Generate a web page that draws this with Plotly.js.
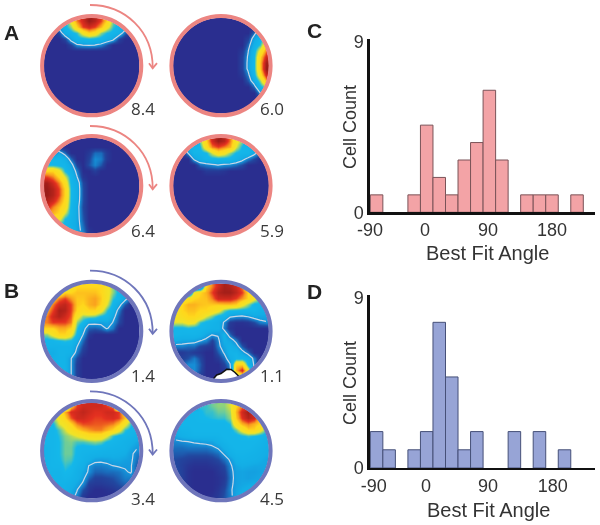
<!DOCTYPE html>
<html><head><meta charset="utf-8">
<script src="https://cdn.plot.ly/plotly-3.0.1.min.js"></script>
<style>html,body{margin:0;padding:0;background:#fff}#c{width:600px;height:525px;filter:blur(0.4px)}</style></head>
<body><div id="c"></div>
<script>
const angles = [-72,-54,-36,-18,0,18,36,54,72,90,108,126,144,162,180,198,216];
const countsC = [1,0,0,1,5,2,1,3,4,7,3,0,1,1,1,0,1];
const countsD = [2,1,0,1,2,8,5,1,2,0,0,2,0,2,0,1,0];
const tickPosC = [-81.5,-2.5,88,180];
const tickPosD = [-76,-1,88,181];
const tickText = ["-90","0","90","180"];
const mapLabels = ["8.4","6.0","6.4","5.9","1.4","1.1","3.4","4.5"];

const O=[0,0,0,0,0,0,0,0,0,0,0,0,0,0,0,0];
const mapA1=[
[0,0,0,3,5,7,8,9,8.5,7.5,6,4,3,3,0,0],
[0,0,2,3,4,6,7.5,8,7.5,6.5,5,3.5,3,2.5,0,0],
[0,0,.5,2.5,3,3.5,5,6,5.5,4,3.3,3,2.5,1,0,0],
[0,0,0,.5,2,3,3,3.2,3,3,2.5,2,.5,0,0,0],
[0,0,0,0,.5,1.4,1.6,1.7,1.6,1.3,.7,0,0,0,0,0],
O,O,O,O,O,O,O,O,O,O,O];
const mapA2=[
O,O,
[0,0,0,0,0,0,0,0,0,0,0,0,0,1,2.5,3],
[0,0,0,0,0,0,0,0,0,0,0,0,.5,2,3,3.5],
[0,0,0,0,0,0,0,0,0,0,0,0,1,2.5,3.5,6],
[0,0,0,0,0,0,0,0,0,0,0,.3,1.4,3,5,7],
[0,0,0,0,0,0,0,0,0,0,0,.5,1.6,3.2,6,8],
[0,0,0,0,0,0,0,0,0,0,0,.5,1.7,3.3,6.3,8.8],
[0,0,0,0,0,0,0,0,0,0,0,.5,1.7,3.3,6.2,9],
[0,0,0,0,0,0,0,0,0,0,0,.3,1.2,3,5.5,8],
[0,0,0,0,0,0,0,0,0,0,0,0,.8,2.2,4,6.5],
[0,0,0,0,0,0,0,0,0,0,0,0,0,1,3,4],
[0,0,0,0,0,0,0,0,0,0,0,0,0,0,1.5,2.5],
O,O,O];
const mapA3=[
O,O,
[0,1,2,1,0,0,0,.3,1,1,.3,0,0,0,0,0],
[3,3,3,2.5,1,0,0,.5,1.4,1.2,.3,0,0,0,0,0],
[3.2,3.2,3,3,2,.5,0,.7,1.3,.8,0,0,0,0,0,0],
[6,6,5,3.3,2.5,1.2,0,0,.4,0,0,0,0,0,0,0],
[7.5,7,6,4.5,3,1.6,.2,0,0,0,0,0,0,0,0,0],
[8.8,8,7,5.5,3,2.2,.6,0,0,0,0,0,0,0,0,0],
[9,8.5,7.5,6,3.3,2.3,.7,0,0,0,0,0,0,0,0,0],
[9,8.5,7.5,6,3.3,2.3,.7,0,0,0,0,0,0,0,0,0],
[8.5,8,7,5.8,3.2,2.2,.7,0,0,0,0,0,0,0,0,0],
[8,7,6.3,5.5,3,2,.6,0,0,0,0,0,0,0,0,0],
[6.5,6.5,6,4.5,3,2,.7,0,0,0,0,0,0,0,0,0],
[5,5.5,5,3.3,2.8,2,.8,0,0,0,0,0,0,0,0,0],
[3,3,3.5,3,2.6,2,1,0,0,0,0,0,0,0,0,0],
[3,3,3,3,3,2,1.2,.2,0,0,0,0,0,0,0,0]];
const mapA4=[
[0,0,0,0,4,6,8,9,8.5,7,5,4,0,0,0,0],
[0,0,3,3,3.3,5.5,7,7.5,7,6.5,4.5,3.2,3,3,0,0],
[0,0,1.6,3,3,3.2,4.5,5.5,5,4,3.2,3,3,2,1,0],
[0,0,0,1.8,2.5,3,3,3,3,3,2.6,2,1.2,.6,0,0],
[0,0,0,0,1,1.2,1.4,1.6,1.4,1.3,1,.6,0,0,0,0],
[0,0,0,0,0,.3,.3,.3,.2,0,0,0,0,0,0,0],
O,O,O,O,O,O,O,O,O,O];
const mapB1=[
[0,0,0,0,5,6,6,6,6,6,5,4,3,0,0,0],
[0,0,5,6,6,6.3,6.3,6.3,6.3,6,5,4,3,2.5,1,0],
[5,6,7,7.5,6.8,6.2,6.2,6.5,6.7,6.2,5,3.5,3,2,1,.5],
[6,7,8,8.3,7.5,6.2,6,6.5,6.7,6,4.5,3,2,.8,0,0],
[6.5,7.5,8.7,8.5,7.5,6,5.5,6,6,5,3.5,2.5,1.2,0,0,0],
[7,8,8.5,8,7.3,5,4,4,3.8,3.2,3,2,.8,0,0,0],
[7,7.5,7.5,7.5,7,4,3.1,1.8,1.8,1.8,2,1.5,.6,0,0,0],
[6,6,6.5,6.5,6,3.5,2,.9,.8,1,1.6,1.1,0,0,0,0],
[4,5,6,6,5,3,1.6,.3,0,0,0,0,0,0,0,0],
[3,3,3.3,3.5,3.3,2.2,1,0,0,0,0,0,0,0,0,0],
[2.8,2.7,2.7,2.7,2.7,1.6,.6,0,0,0,0,0,0,0,0,0],
[2.2,2.2,2.8,2.8,2.6,1.2,.3,0,0,0,0,0,0,0,0,0],
[2.2,2.5,2.7,2.7,1.6,.6,0,0,0,0,0,0,0,0,0,0],
[2.2,2.5,2.7,2.7,1.6,.4,0,0,0,0,0,0,0,0,0,0],
[2.2,2.5,2.7,2.7,1.6,.4,0,0,0,0,0,0,0,0,0,0],
[2.2,2.5,2.7,2.7,1.6,.4,0,0,0,0,0,0,0,0,0,0]];
const mapB2=[
[0,0,0,0,0,6,7,8,8.7,8.5,8,7,5,0,0,0],
[0,0,0,5,6,6.5,7.5,8.5,8.8,8.8,8.3,7.5,6,5,4,0],
[0,4.5,5.5,6,6.2,6.3,7,8,8,8,7.5,6.8,6,5,3.5,3],
[5,6,6.5,6.5,6.3,6.2,6.2,6.2,6.3,6.3,6.1,5,4,3,3,2.5],
[5,6,6.3,6.3,6,6,5.5,5,3.8,3.2,3,3,3,3,2.5,2.5],
[5,5.5,6,6,5.5,4.5,3.8,3,2.8,1.7,1.5,1.4,1.6,2,2,2],
[4.5,4.5,5,4.8,3.5,3,2.8,2.5,1.4,.3,.1,.1,.2,.6,1.2,1.4],
[3,3,3.2,3,3,2.8,2.6,2.5,1.2,.2,0,0,0,0,0,0],
[3,2.8,2.8,2.8,2.6,2,1.6,1.6,2.4,.9,0,0,0,0,0,0],
[2.2,2,2,1.9,1.6,1.3,.5,1.3,2.3,2,1.2,0,0,0,0,0],
[1.2,1.2,1,1,.5,.3,.2,1.2,2,2.5,2,.8,0,0,0,0],
[.3,.3,.5,.3,.2,0,0,.8,1.6,2.7,2.8,1.9,1,0,0,0],
[.5,.5,.7,1.2,.6,0,0,.3,1,2.2,3,3,2.5,1.2,0,0],
[0,.8,1.4,1.4,.8,0,0,0,.5,1.4,6,6,3,1.4,0,0],
[0,0,1.2,1.4,.7,0,0,0,.2,1,6.5,8,5,1.5,0,0],
[0,0,0,1,.4,0,0,0,0,.5,3,5,2,0,0,0]];
const mapB3=[
[0,0,0,0,6,7.5,8,8,8,8,7.5,7,0,0,0,0],
[0,0,5,6.5,7.8,8,8.3,8,7.7,7.7,8,8,7.5,6,0,0],
[0,4,5,6,7.3,8,8,7.7,7.5,7.5,7.7,7.8,7.5,6.3,4.5,0],
[3,3.2,4.5,5,6,7,7.4,7.4,7.3,7.3,7.2,7,6.3,5,3.5,3],
[3,3,3.6,4.4,5.2,6,6.5,6.8,7,7,6.5,6,5,3.5,3,3],
[3,3,3.4,3.9,4.2,4.6,5,5.5,5.5,5.5,4.6,3.5,3,3,2.8,2.5],
[3,3,3.3,3.8,3.9,3.6,3.6,3.8,4,3.8,3.2,3,2.8,2.6,2.4,2],
[2.8,3,3.3,3.8,3.8,3.2,3,3,3,2.9,2.8,2.7,2.6,2.5,2,1.6],
[2.8,3,3.3,3.8,3.8,3.1,2.8,2.7,2.6,2.5,2.4,2.4,2.3,2.2,1.7,1.2],
[2.8,3,3.2,3.7,3.6,3,2.7,2.3,1.8,1.7,1.8,2,2,1.8,1.7,1],
[2.8,3,3,3.5,3.3,2.8,2.4,1.5,1.2,1.2,1.3,1.5,1.6,1.6,1.6,.8],
[2.8,2.8,2.8,3.3,3.1,2.5,2,1.4,.9,.9,1,1,1.1,1.4,1.6,.8],
[2.7,2.7,2.7,3,2.8,2.4,1.8,.9,.5,.5,.6,.7,.9,1.2,1.2,.5],
[2.7,2.7,2.7,2.7,2.5,2,1.4,.4,.3,.3,.4,.5,.7,.9,.9,.5],
[2.6,2.6,2.6,2.6,2.2,1.6,.7,.2,0,0,.1,.2,.4,.5,.5,.3],
[2.5,2.5,2.5,2.5,2,1.3,.3,0,0,0,0,0,0,0,0,0]];
const mapB4=[
[0,0,0,0,3.5,3.5,3.8,4,4,4.5,6,7,7,5,0,0],
[0,0,3,3,3.2,3.5,3.5,3.8,3.8,4.2,6.5,8,8.8,7.5,5,0],
[3,3,3,3,3.2,3.3,3.4,3.5,3.5,4,6.2,7.7,8.5,8,6,4],
[2.8,3,3,3,3,3,3,3,3,3.4,5.5,6.5,7,6.5,6,4],
[2.5,2.8,2.8,3,3,3,3,3,3,3,3.8,5,6,6,5,3.5],
[2,2.4,2.6,2.8,2.8,2.8,2.8,2.8,3,3,3,3.2,3.5,3.3,3,2.8],
[1.3,1.4,1.5,1.6,1.7,1.8,1.9,2.4,2.8,3,3,3,3,3,2.8,2.5],
[1,1,1.1,1.1,1.1,1.1,1.3,1.6,2.3,2.8,3,3,3,2.8,2.6,2.3],
[.8,.8,.7,.7,.7,.7,.8,1,1.6,2.4,2.8,2.8,2.7,2.6,2.4,2.2],
[.6,.5,.4,.3,.3,.3,.4,.6,1,1.6,2.4,2.6,2.5,2.4,2.2,2],
[.6,.4,.2,.1,.1,.1,.2,.3,.6,1.3,2,2.2,2.1,2,2,2],
[.7,.4,.1,0,0,0,0,.2,.4,1.2,1.8,1.9,1.8,1.8,1.9,2],
[.8,.4,.1,0,0,0,0,.1,.3,1.1,1.8,1.9,1.8,1.9,2,2.2],
[.8,.4,.1,0,0,0,0,.1,.4,1.2,1.8,2,2.1,2.2,2.3,2.4],
[.8,.4,.1,0,0,0,0,.2,.6,1.3,1.9,2.2,2.4,2.5,2.5,2.5],
[.6,.4,.2,0,0,0,.1,.3,.7,1.2,2,2.4,2.6,2.6,2.6,2.6]];
const maps=[mapA1,mapA2,mapA3,mapA4,mapB1,mapB2,mapB3,mapB4];

const W=600,H=525;
const px=x=>x/W, py=y=>1-y/H;
const centreX=[91.7,221,91.7,221,91.7,221,91.7,221];
const centreY=[65.7,65.7,185.7,185.7,331.3,331.3,450.7,450.7];
const labelX=[143,272,143,272,143,272,143,272];
const labelY=[109,109,231,231,375,375,498,498];
const RED='#ec8582', BLUE='#6f76bb';
const jet=[[0,'#2a2e8f'],[.6,'#22479f'],[1,'#1a6dbc'],[1.5,'#1596dc'],[2.2,'#13aee6'],[3.3,'#14b8ea'],[3.9,'#7fd08a'],[4.6,'#f0e428'],[6,'#ffd81c'],[6.8,'#f99a1e'],[7.6,'#e43020'],[9,'#9a1c18']].map(s=>[s[0]/9,s[1]]);

const data=[], layout={width:W,height:H,margin:{l:0,r:0,t:0,b:0},paper_bgcolor:'#fff',plot_bgcolor:'rgba(0,0,0,0)',showlegend:false,bargap:0,font:{family:'"Liberation Sans",Arial,sans-serif',color:'#333'},annotations:[],shapes:[]};
const HALF=48;
maps.forEach((z,i)=>{
  const n=i+1, xa='x'+n, ya='y'+n;
  data.push({type:'heatmap',z:z,xaxis:xa,yaxis:ya,zmin:0,zmax:9,colorscale:jet,zsmooth:'best',showscale:false,hoverinfo:'skip'});
  data.push({type:'contour',z:z,xaxis:xa,yaxis:ya,autocontour:false,contours:{start:1.5,end:1.5,size:1,coloring:'none'},line:{color:'#c9d6e6',width:1.2,smoothing:0},showscale:false,hoverinfo:'skip'});
  layout['xaxis'+n]={domain:[px(centreX[i]-HALF),px(centreX[i]+HALF)],range:[-.5,15.5],visible:false,anchor:ya};
  layout['yaxis'+n]={domain:[py(centreY[i]+HALF),py(centreY[i]-HALF)],range:[15.5,-.5],visible:false,anchor:xa};
  layout.annotations.push({text:mapLabels[i],xref:'paper',yref:'paper',x:px(labelX[i]),y:py(labelY[i]),showarrow:false,xanchor:'center',yanchor:'middle',font:{family:'"Open Sans"',size:17,color:'#3a3a3a'}});
});
function circle(cx,cy,r,color,w){return {type:'circle',xref:'paper',yref:'paper',x0:px(cx-r),x1:px(cx+r),y0:py(cy+r),y1:py(cy-r),line:{color:color,width:w},fillcolor:'rgba(0,0,0,0)'};}
function path(pts,color,w,fill){return {type:'path',xref:'paper',yref:'paper',path:pts,line:{color:color,width:w},fillcolor:fill||'rgba(0,0,0,0)'};}
const P=(x,y)=>px(x)+','+py(y);
maps.forEach((z,i)=>layout.shapes.push(circle(centreX[i],centreY[i],59,'#ffffff',22)));
layout.shapes.push(path('M'+P(212,381)+' L'+P(216.7,375)+' L'+P(221,373.5)+' L'+P(226.7,369.3)+' L'+P(231,369.5)+' L'+P(235,372.5)+' L'+P(240,377.5)+' L'+P(234,383)+' L'+P(218,383)+' Z','rgba(0,0,0,0)',0,'#ffffff'));
layout.shapes.push(path('M'+P(212,380.5)+' L'+P(216.7,375)+' L'+P(221,373.5)+' L'+P(226.7,369.3)+' L'+P(231,369.5)+' L'+P(235,372.5)+' L'+P(240,377.5),'#111',1.5));
maps.forEach((z,i)=>layout.shapes.push(circle(centreX[i],centreY[i],49.6,i<4?RED:BLUE,4)));
function arrow(cy,color){
  const y0=cy-60.7, y1=cy+2.5;
  layout.shapes.push(path('M'+P(90,y0)+' C'+P(125,y0)+' '+P(153,y0+26)+' '+P(152.7,y1),color,1.8));
  layout.shapes.push(path('M'+P(149,y1-5)+' L'+P(152.7,y1)+' L'+P(157,y1-5),color,1.8));
}
arrow(65.7,RED);arrow(186.7,RED);arrow(331.3,BLUE);arrow(452,BLUE);

function bars(counts,xa,ya,fill,edge){
  const keep=angles.map((a,i)=>i).filter(i=>counts[i]>0);
  return {type:'bar',x:keep.map(i=>angles[i]),y:keep.map(i=>counts[i]),width:18,xaxis:xa,yaxis:ya,marker:{color:fill,line:{color:edge,width:1}},hoverinfo:'skip'};
}
data.push(bars(countsC,'x9','y9','#f3a3a6','#7a5358'));
data.push(bars(countsD,'x10','y10','#97a4d6','#465078'));
function hist(n,top,base,yMax,y9,ticks){
  layout['xaxis'+n]={domain:[px(369.7),px(595)],range:[-81.9,241.8],anchor:'y'+n,showgrid:false,zeroline:false,showline:true,linecolor:'#111',linewidth:2.4,ticks:'',tickmode:'array',tickvals:ticks,ticktext:tickText,tickfont:{size:18,color:'#333'}};
  layout['yaxis'+n]={domain:[py(base),py(top)],range:[0,yMax],anchor:'x'+n,showgrid:false,zeroline:false,showline:true,linecolor:'#111',linewidth:2.4,ticks:'',tickmode:'array',tickvals:[0,y9],ticktext:['0','9'],tickfont:{size:18,color:'#333'}};
}
hist(9,39,212.3,9.94,9.8,tickPosC);
hist(10,295,468,9.5,9.38,tickPosD);
function txt(t,x,y,size,extra){layout.annotations.push(Object.assign({text:t,xref:'paper',yref:'paper',x:px(x),y:py(y),showarrow:false,xanchor:'center',yanchor:'middle',font:{size:size,color:'#333'}},extra||{}));}
txt('Best Fit Angle',487.7,253,20);
txt('Best Fit Angle',488,510,20);
txt('Cell Count',350,127,18,{textangle:-90});
txt('Cell Count',350,383,18,{textangle:-90});
[['A',11,33],['B',11,290],['C',314,31],['D',314,291]].forEach(a=>txt('<b>'+a[0]+'</b>',a[1],a[2],21,{font:{size:21,color:'#222'}}));
Plotly.newPlot('c',data,layout,{displayModeBar:false,staticPlot:true});
</script></body></html>
